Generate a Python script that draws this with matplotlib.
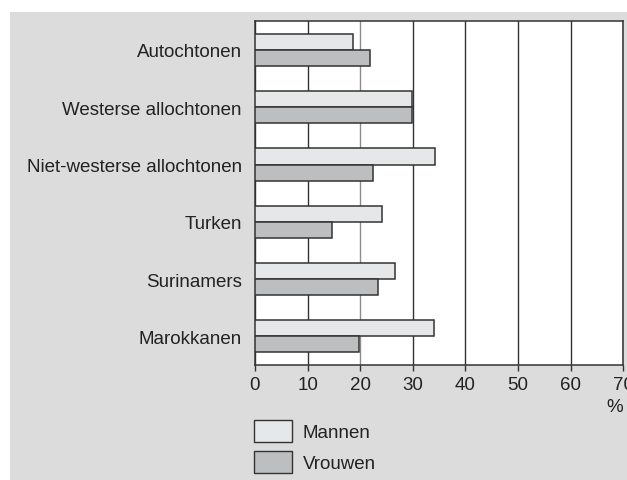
import numpy as np
import matplotlib.pyplot as plt
from matplotlib.patches import Patch, Rectangle

plt.rcParams['font.family'] = ['Liberation Sans', 'DejaVu Sans']

# data (%)
groups = ['Autochtonen', 'Westerse allochtonen', 'Niet-westerse allochtonen',
          'Turken', 'Surinamers', 'Marokkanen']
mannen = [18.7, 29.8, 34.3, 24.1, 26.7, 34.0]
vrouwen = [21.9, 29.8, 22.5, 14.7, 23.4, 19.7]
xticks = [0, 10, 20, 30, 40, 50, 60, 70]

c_man = '#e6e7e9'
c_vrouw = '#bdbec0'
edge = '#333333'
fs = 13.5

fig = plt.figure(figsize=(6.27, 4.81), dpi=100)
fig.patch.set_facecolor('white')
# grey panel behind the chart
fig.patches.append(Rectangle((10 / 627, 0), 1, 1 - 13 / 481, transform=fig.transFigure,
                             facecolor='#dcdcdc', edgecolor='none', zorder=-5))

ax = fig.add_axes([255 / 627, 1 - 366 / 481, (623.3 - 255) / 627, (366 - 22.3) / 481])
ax.set_facecolor('white')

y = np.arange(len(groups))
h = 0.28
ax.barh(y - h / 2, mannen, height=h, color=c_man, edgecolor=edge, linewidth=1.1, zorder=3)
ax.barh(y + h / 2, vrouwen, height=h, color=c_vrouw, edgecolor=edge, linewidth=1.1, zorder=3)

ax.set_xlim(0, 70)
ax.set_ylim(len(groups) - 0.5, -0.5)
ax.set_xticks(xticks)
ax.set_xticklabels([str(t) for t in xticks], fontsize=fs, color='#222222')
ax.set_yticks(y)
ax.set_yticklabels(groups, fontsize=fs, color='#222222')
ax.tick_params(axis='y', length=0, pad=9.5)
ax.tick_params(axis='x', length=4, width=1, color=edge, pad=4)
ax.grid(axis='x', color=edge, linewidth=1, zorder=1)
ax.get_xgridlines()[2].set_color('#8c8c8c')  # the 20% line prints lighter
for s in ax.spines.values():
    s.set_color(edge)
    s.set_linewidth(1.1)

fig.text(623 / 627, 1 - 408 / 481, '%', ha='right', va='center', fontsize=fs, color='#222222')

handles = [Patch(facecolor=c_man, edgecolor=edge, linewidth=1),
           Patch(facecolor=c_vrouw, edgecolor=edge, linewidth=1)]
fig.legend(handles, ['Mannen', 'Vrouwen'], loc='upper left',
           bbox_to_anchor=(254 / 627, 1 - 421 / 481), frameon=False, fontsize=fs,
           handlelength=2.05, handleheight=1.45, handletextpad=0.55,
           labelspacing=0.45, borderpad=0, borderaxespad=0, labelcolor='#222222')

fig.savefig('out.png', dpi=100)
